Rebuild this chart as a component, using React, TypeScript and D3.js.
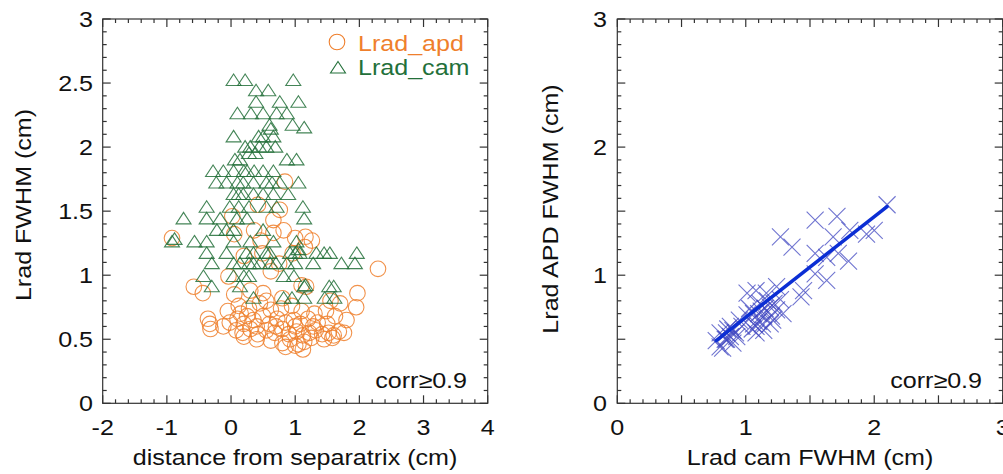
import * as d3 from 'd3'

// left panel: Lrad FWHM vs distance from separatrix
const apdPoints: [number, number][] = [
  [-0.92, 1.29], [2.29, 1.05], [-0.58, 0.91], [-0.44, 0.86], [1.97, 0.86], [1.95, 0.75],
  [1.8, 0.65], [-0.36, 0.66], [-0.33, 0.62], [-0.32, 0.58], [-0.12, 0.6],
  [0.42, 1.55], [0.76, 1.51], [0.66, 1.43], [0.84, 1.73], [0.02, 1.46], [0.05, 1.32],
  [0.36, 1.35], [0.46, 1.27], [0.66, 1.33], [0.82, 1.35], [1.0, 1.29], [1.16, 1.3],
  [1.26, 1.27], [0.2, 1.15], [0.49, 1.17], [0.75, 1.09], [0.96, 1.17], [1.15, 1.22],
  [0.62, 1.03], [1.17, 0.91], [1.1, 0.92], [-0.04, 0.99],
  [0.05, 0.85], [0.3, 0.88], [0.5, 0.86], [0.8, 0.82], [1.55, 0.8], [1.7, 0.78],
  [-0.05, 0.72], [0.12, 0.76], [0.28, 0.74], [0.45, 0.78], [0.62, 0.73], [0.78, 0.74],
  [0.95, 0.76], [1.1, 0.72], [1.3, 0.7], [1.48, 0.72], [1.62, 0.68],
  [-0.02, 0.63], [0.1, 0.66], [0.2, 0.62], [0.35, 0.65], [0.5, 0.68], [0.6, 0.62],
  [0.72, 0.66], [0.85, 0.63], [0.98, 0.65], [1.08, 0.62], [1.2, 0.66], [1.35, 0.63], [1.5, 0.62],
  [0.08, 0.57], [0.18, 0.55], [0.3, 0.58], [0.42, 0.54], [0.55, 0.57], [0.68, 0.55],
  [0.8, 0.58], [0.9, 0.54], [1.02, 0.56], [1.12, 0.53], [1.22, 0.55], [1.32, 0.57],
  [1.42, 0.54], [1.52, 0.55], [1.6, 0.53], [1.68, 0.56], [1.76, 0.55],
  [0.2, 0.52], [0.4, 0.5], [0.62, 0.49], [0.8, 0.47], [0.92, 0.5], [1.05, 0.46],
  [1.14, 0.48], [1.25, 0.51], [1.45, 0.5], [1.58, 0.51], [0.85, 0.44], [1.12, 0.42], [1.0, 0.45],
  [0.25, 0.68], [0.55, 0.8], [0.7, 0.6], [1.0, 0.6], [1.28, 0.6], [0.4, 0.6], [0.15, 0.7],
]

const camPoints: [number, number][] = [
  [0.04, 2.52], [0.22, 2.52], [0.97, 2.52],
  [0.39, 2.44], [0.58, 2.44],
  [0.39, 2.35], [0.76, 2.35], [1.05, 2.35],
  [0.1, 2.26], [0.31, 2.26], [0.5, 2.26], [0.71, 2.26], [0.87, 2.26],
  [0.6, 2.17], [0.96, 2.17], [1.14, 2.15], [0.62, 2.14],
  [0.04, 2.08], [0.43, 2.08], [0.66, 2.08], [0.5, 2.08],
  [0.22, 2.0], [0.55, 2.0], [0.69, 2.0], [0.3, 2.0], [0.44, 2.0],
  [0.28, 1.95], [0.38, 1.95],
  [0.06, 1.9], [0.87, 1.9], [1.02, 1.9], [0.14, 1.9],
  [-0.28, 1.81], [-0.12, 1.81], [0.04, 1.81], [0.25, 1.81], [0.5, 1.81], [0.66, 1.81], [0.2, 1.81], [0.36, 1.81],
  [-0.23, 1.72], [-0.07, 1.72], [0.19, 1.72], [0.35, 1.72], [0.55, 1.72], [0.76, 1.72], [1.05, 1.72], [0.1, 1.72], [0.64, 1.72],
  [0.04, 1.63], [0.19, 1.63], [0.35, 1.63], [0.5, 1.63], [0.66, 1.63], [0.89, 1.63], [0.12, 1.63],
  [-0.38, 1.53], [-0.02, 1.53], [0.12, 1.53], [0.28, 1.53], [0.55, 1.53], [0.71, 1.53], [1.12, 1.53],
  [-0.74, 1.44], [-0.38, 1.44], [-0.17, 1.44], [0.09, 1.44], [0.25, 1.44], [1.14, 1.44],
  [-0.22, 1.35], [-0.07, 1.35], [0.04, 1.35], [0.5, 1.35],
  [-0.92, 1.26], [-0.88, 1.28], [-0.57, 1.26], [-0.38, 1.26], [0.04, 1.26], [0.3, 1.26], [0.66, 1.26], [1.02, 1.26],
  [-0.38, 1.17], [-0.07, 1.17], [0.24, 1.17], [0.35, 1.17], [0.55, 1.17], [0.92, 1.17], [1.07, 1.17],
  [1.33, 1.17], [1.54, 1.17], [1.96, 1.17], [1.05, 1.2], [1.0, 1.17], [0.6, 1.17], [1.45, 1.17],
  [-0.3, 1.09], [0.04, 1.09], [0.14, 1.09], [0.35, 1.09], [0.61, 1.09], [0.87, 1.09], [1.28, 1.09],
  [1.72, 1.09], [1.93, 1.09], [0.7, 1.09], [0.28, 1.09], [1.0, 1.09], [0.45, 1.09],
  [-0.43, 0.99], [0.04, 0.99], [0.28, 0.99], [0.82, 0.99], [0.98, 0.99], [0.2, 0.99],
  [-0.3, 0.91], [0.14, 0.91], [1.14, 0.91], [1.53, 0.91], [1.6, 0.91], [1.16, 0.92],
  [0.35, 0.82], [0.82, 0.82], [1.14, 0.82], [1.61, 0.82], [0.95, 0.82], [1.46, 0.82],
]

// right panel: APD vs camera FWHM
const fwhmPoints: [number, number][] = [
  [2.1, 1.55], [2.0, 1.35], [1.94, 1.32], [1.54, 1.43], [1.71, 1.46], [1.81, 1.35],
  [1.68, 1.3], [1.27, 1.3], [1.36, 1.22], [1.54, 1.17], [1.63, 1.14], [1.72, 1.17],
  [1.8, 1.11], [1.54, 1.01], [1.63, 0.96], [1.45, 0.88], [1.43, 0.83],
  [1.01, 0.86], [1.08, 0.88], [1.16, 0.86], [1.24, 0.91], [1.27, 0.81], [1.29, 0.7],
  [1.21, 0.65], [1.14, 0.68], [1.06, 0.7], [1.08, 0.6], [1.19, 0.75], [1.11, 0.78],
  [1.01, 0.69], [0.95, 0.65], [0.9, 0.57], [0.85, 0.55], [0.8, 0.55], [0.77, 0.49],
  [0.82, 0.43], [0.88, 0.52], [0.93, 0.52], [0.88, 0.6], [1.06, 0.62], [1.14, 0.57],
  [1.19, 0.62], [1.24, 0.73], [1.08, 0.55], [0.8, 0.44], [0.9, 0.47], [1.03, 0.74],
  [1.12, 0.72], [1.17, 0.8], [0.84, 0.5], [1.1, 0.64],
  [0.85, 0.5], [0.92, 0.55], [1.05, 0.58], [1.1, 0.7], [1.15, 0.74], [0.97, 0.6],
  [1.2, 0.68], [1.13, 0.62], [0.86, 0.58], [1.22, 0.78],
]

const fitLine: [number, number][] = [[0.77, 0.49], [2.1, 1.535]]

const leftXTicks = [-2, -1, 0, 1, 2, 3, 4]
const leftYTicks = ['0', '0.5', '1', '1.5', '2', '2.5', '3']
const rightTicks = [0, 1, 2, 3]

const FONT = '"Liberation Sans", Arial, Helvetica, sans-serif'
const ORANGE = '#ef7f2c'
const GREEN = '#23703a'
const BLUE = '#3f46c0'
const FRAME = '#333'

function Txt({ x, y, anchor = 'start', rot = 0, size = 22, fill = '#111', children }: any) {
  return (
    <text
      transform={`translate(${x},${y}) rotate(${rot}) scale(1.14,1)`}
      textAnchor={anchor}
      fontSize={size}
      fontFamily={FONT}
      fill={fill}
    >
      {children}
    </text>
  )
}

function Frame({ x, y, xMajor, xMinor, yMajor, yMinor }: any) {
  const [x0, x1] = x.range()
  const [y0, y1] = y.range()
  const ticks: JSX.Element[] = []
  xMinor.forEach((v: number, i: number) => {
    const len = xMajor.some((m: number) => Math.abs(m - v) < 1e-6) ? 8 : 4
    const px = x(v)
    ticks.push(<line key={'xb' + i} x1={px} x2={px} y1={y0} y2={y0 - len} />)
    ticks.push(<line key={'xt' + i} x1={px} x2={px} y1={y1} y2={y1 + len} />)
  })
  yMinor.forEach((v: number, i: number) => {
    const len = yMajor.some((m: number) => Math.abs(m - v) < 1e-6) ? 8 : 4
    const py = y(v)
    ticks.push(<line key={'yl' + i} x1={x0} x2={x0 + len} y1={py} y2={py} />)
    ticks.push(<line key={'yr' + i} x1={x1} x2={x1 - len} y1={py} y2={py} />)
  })
  return (
    <g stroke={FRAME} strokeWidth={1.2} fill="none">
      <rect x={x0} y={y1} width={x1 - x0} height={y0 - y1} />
      {ticks}
    </g>
  )
}

const tri = (cx: number, cy: number) =>
  `M${cx},${cy - 6.5}L${cx + 7.5},${cy + 5}L${cx - 7.5},${cy + 5}Z`

export default function App() {
  const lx = d3.scaleLinear().domain([-2, 4]).range([102.7, 487.7])
  const ly = d3.scaleLinear().domain([0, 3]).range([403.3, 19])
  const rx = d3.scaleLinear().domain([0, 3]).range([617.3, 1002.7])
  const ry = d3.scaleLinear().domain([0, 3]).range([403.3, 19])

  const line = d3.line<[number, number]>().x((d) => rx(d[0])).y((d) => ry(d[1]))

  return (
    <svg
      width={1003}
      height={474}
      style={{ position: 'absolute', left: 0, top: 0, background: '#fff' }}
    >
      {/* left panel */}
      <Frame
        x={lx}
        y={ly}
        xMajor={d3.range(-2, 4.01, 1)}
        xMinor={d3.range(-2, 4.01, 0.2)}
        yMajor={d3.range(0, 3.01, 0.5)}
        yMinor={d3.range(0, 3.01, 0.1)}
      />
      <g fill="none" stroke={ORANGE} strokeWidth={1.1} strokeOpacity={0.85}>
        {apdPoints.map((d, i) => (
          <circle key={i} cx={lx(d[0])} cy={ly(d[1])} r={7.8} />
        ))}
      </g>
      <g fill="none" stroke={GREEN} strokeWidth={1.1} strokeOpacity={0.85}>
        {camPoints.map((d, i) => (
          <path key={i} d={tri(lx(d[0]), ly(d[1]))} />
        ))}
      </g>
      {leftXTicks.map((v) => (
        <Txt key={v} x={lx(v)} y={435} anchor="middle">{String(v)}</Txt>
      ))}
      {leftYTicks.map((v) => (
        <Txt key={v} x={93} y={ly(+v) + 8} anchor="end">{v}</Txt>
      ))}
      <Txt x={295} y={465} anchor="middle">distance from separatrix (cm)</Txt>
      <Txt x={31} y={205} anchor="middle" rot={-90}>Lrad FWHM (cm)</Txt>
      <Txt x={467} y={388} anchor="end">corr≥0.9</Txt>
      <circle cx={337} cy={42} r={7.8} fill="none" stroke={ORANGE} strokeWidth={1.1} />
      <Txt x={358} y={51} fill={ORANGE}>Lrad_apd</Txt>
      <path d={tri(338, 68)} fill="none" stroke={GREEN} strokeWidth={1.1} />
      <Txt x={358} y={75} fill={GREEN}>Lrad_cam</Txt>

      {/* right panel */}
      <Frame
        x={rx}
        y={ry}
        xMajor={d3.range(0, 3.01, 0.5)}
        xMinor={d3.range(0, 3.01, 0.1)}
        yMajor={d3.range(0, 3.01, 0.5)}
        yMinor={d3.range(0, 3.01, 0.1)}
      />
      <g stroke={BLUE} strokeWidth={1.1} strokeOpacity={0.75}>
        {fwhmPoints.map((d, i) => {
          const cx = rx(d[0])
          const cy = ry(d[1])
          return (
            <path key={i} d={`M${cx - 8.5},${cy - 8.5}L${cx + 8.5},${cy + 8.5}M${cx - 8.5},${cy + 8.5}L${cx + 8.5},${cy - 8.5}`} />
          )
        })}
      </g>
      <path d={line(fitLine) || ''} fill="none" stroke="#0b2ed4" strokeWidth={3.5} strokeLinecap="round" />
      {rightTicks.map((v) => (
        <Txt key={'x' + v} x={rx(v)} y={435} anchor="middle">{String(v)}</Txt>
      ))}
      {rightTicks.map((v) => (
        <Txt key={'y' + v} x={607} y={ry(v) + 8} anchor="end">{String(v)}</Txt>
      ))}
      <Txt x={810} y={465} anchor="middle">Lrad cam FWHM (cm)</Txt>
      <Txt x={558} y={209} anchor="middle" rot={-90}>Lrad APD FWHM (cm)</Txt>
      <Txt x={982} y={388} anchor="end">corr≥0.9</Txt>
    </svg>
  )
}
